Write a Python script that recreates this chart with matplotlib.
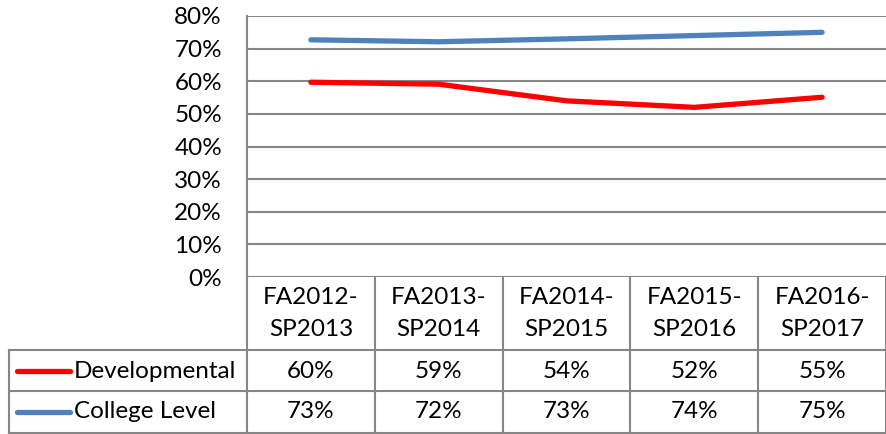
import matplotlib
matplotlib.use("Agg")
import matplotlib.pyplot as plt
from matplotlib.lines import Line2D
import matplotlib.transforms as mtrans

categories_top = ["FA2012-", "FA2013-", "FA2014-", "FA2015-", "FA2016-"]
categories_bottom = ["SP2013", "SP2014", "SP2015", "SP2016", "SP2017"]
series_names = ["Developmental", "College Level"]
developmental = [59.7, 59.1, 54.0, 52.0, 55.1]
college_level = [72.7, 72.1, 73.0, 74.0, 75.0]
dev_labels = ["60%", "59%", "54%", "52%", "55%"]
col_labels = ["73%", "72%", "73%", "74%", "75%"]
y_ticks = [0, 10, 20, 30, 40, 50, 60, 70, 80]

W, H = 887, 434
FS = 17.5
plt.rcParams['font.family'] = ['Lato', 'DejaVu Sans']
fig = plt.figure(figsize=(W / 100, H / 100), dpi=100)
fig.patch.set_facecolor('white')

ax_left, ax_right, ax_top, ax_bottom = 247, 886, 16, 277
ax = fig.add_axes([ax_left / W, 1 - ax_bottom / H, (ax_right - ax_left) / W, (ax_bottom - ax_top) / H])
grid_c = '#868686'
n = len(categories_top)
x = list(range(n))
ax.set_xlim(-0.5, n - 0.5)
ax.set_ylim(0, 80)
ax.set_yticks(y_ticks)
ax.set_yticklabels([f"{v}%" for v in y_ticks], fontsize=FS)
ax.tick_params(axis='y', length=0, pad=18)
ax.set_xticks([])
for v in y_ticks:
    ax.axhline(v, color=grid_c, lw=1.5, zorder=1)
for s in ['top', 'right', 'bottom']:
    ax.spines[s].set_visible(False)
ax.spines['left'].set_color(grid_c)
ax.spines['left'].set_linewidth(1.5)

red = '#FF0000'
blue = '#4F81BD'
ax.plot(x, developmental, color=red, lw=3.8, solid_capstyle='round', zorder=3)
ax.plot(x, college_level, color=blue, lw=3.8, solid_capstyle='round', zorder=3)

# table
ah = ax_bottom - ax_top
def ay(py):
    return -(py - ax_bottom) / ah

trans = mtrans.blended_transform_factory(ax.transData, ax.transAxes)
fig_x = lambda px: px / W
row_lines = [277, 350, 391, 433]
for i, py in enumerate(row_lines):
    if i == 0:
        continue
    fig.add_artist(Line2D([fig_x(9), fig_x(ax_right)], [1 - py / H, 1 - py / H], color=grid_c, lw=1.5))
for i in range(n + 1):
    ax.add_line(Line2D([i - 0.5, i - 0.5], [ay(277), ay(433)], color=grid_c, lw=1.5,
                       transform=trans, clip_on=False))
fig.add_artist(Line2D([fig_x(9), fig_x(9)], [1 - 350 / H, 1 - 433 / H], color=grid_c, lw=1.5))

for i in range(n):
    ax.text(i, ay(298), categories_top[i], transform=trans, ha='center', va='center', fontsize=FS)
    ax.text(i, ay(330), categories_bottom[i], transform=trans, ha='center', va='center', fontsize=FS)
    ax.text(i, ay(371), dev_labels[i], transform=trans, ha='center', va='center', fontsize=FS)
    ax.text(i, ay(412), col_labels[i], transform=trans, ha='center', va='center', fontsize=FS)

for name, color, py in [(series_names[0], red, 371), (series_names[1], blue, 412)]:
    fig.add_artist(Line2D([fig_x(17), fig_x(70)], [1 - py / H, 1 - py / H], color=color, lw=3.8,
                          solid_capstyle='round'))
    fig.text(fig_x(74), 1 - py / H, name, ha='left', va='center', fontsize=FS)

fig.savefig("out.png", dpi=100, facecolor='white')
